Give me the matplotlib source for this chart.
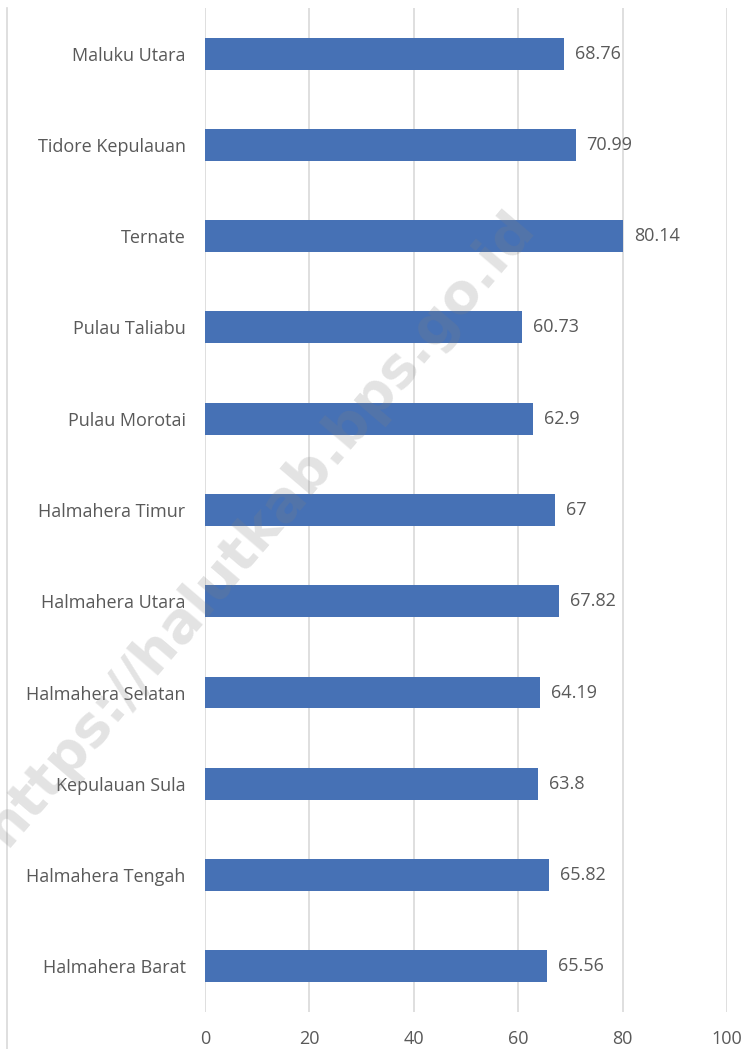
import matplotlib
matplotlib.use("Agg")
import matplotlib.pyplot as plt
from matplotlib.lines import Line2D

# data (top to bottom as in the chart)
wilayah = ["Maluku Utara", "Tidore Kepulauan", "Ternate", "Pulau Taliabu",
           "Pulau Morotai", "Halmahera Timur", "Halmahera Utara",
           "Halmahera Selatan", "Kepulauan Sula", "Halmahera Tengah",
           "Halmahera Barat"]
nilai = [68.76, 70.99, 80.14, 60.73, 62.9, 67, 67.82, 64.19, 63.8, 65.82, 65.56]
label_nilai = ["68.76", "70.99", "80.14", "60.73", "62.9", "67", "67.82",
               "64.19", "63.8", "65.82", "65.56"]
xticks = [0, 20, 40, 60, 80, 100]

plt.rcParams['font.family'] = ['Open Sans', 'DejaVu Sans']
abu = '#595959'
fs = 13

fig = plt.figure(figsize=(7.46, 10.49), dpi=100)
ax = fig.add_axes([0.2748, 0.0353, 0.6997, 0.9571])

y = list(range(len(wilayah)))
ax.barh(y, nilai, height=0.35, color='#4671B5', zorder=3)
for yi, v, t in zip(y, nilai, label_nilai):
    ax.text(v + 2.1, yi, t, va='center', ha='left', fontsize=fs, color=abu, zorder=4)

ax.set_ylim(len(wilayah) - 0.5, -0.5)
ax.set_xlim(0, 100)
ax.set_yticks(y)
ax.set_yticklabels(wilayah, fontsize=fs, color=abu)
ax.set_xticks(xticks)
ax.set_xticklabels([str(t) for t in xticks], fontsize=fs, color=abu)
ax.tick_params(length=0, pad=14, axis='y')
ax.tick_params(length=0, pad=13, axis='x')
ax.grid(axis='x', color='#d9d9d9', linewidth=1.2, zorder=0)
for s in ax.spines.values():
    s.set_visible(False)

# garis tepi kiri
fig.add_artist(Line2D([0.0094, 0.0094], [0.0, 0.992], color='#d9d9d9', linewidth=1.2))

# watermark (sengaja terpotong di tepi kiri seperti aslinya)
fig.text(0.348, 0.496, "https://halutkab.bps.go.id", fontsize=40, fontweight='bold',
         color='#808080', alpha=0.22, rotation=49.5, ha='center', va='center',
         family='DejaVu Sans', zorder=10)

fig.savefig("out.png", dpi=100)
